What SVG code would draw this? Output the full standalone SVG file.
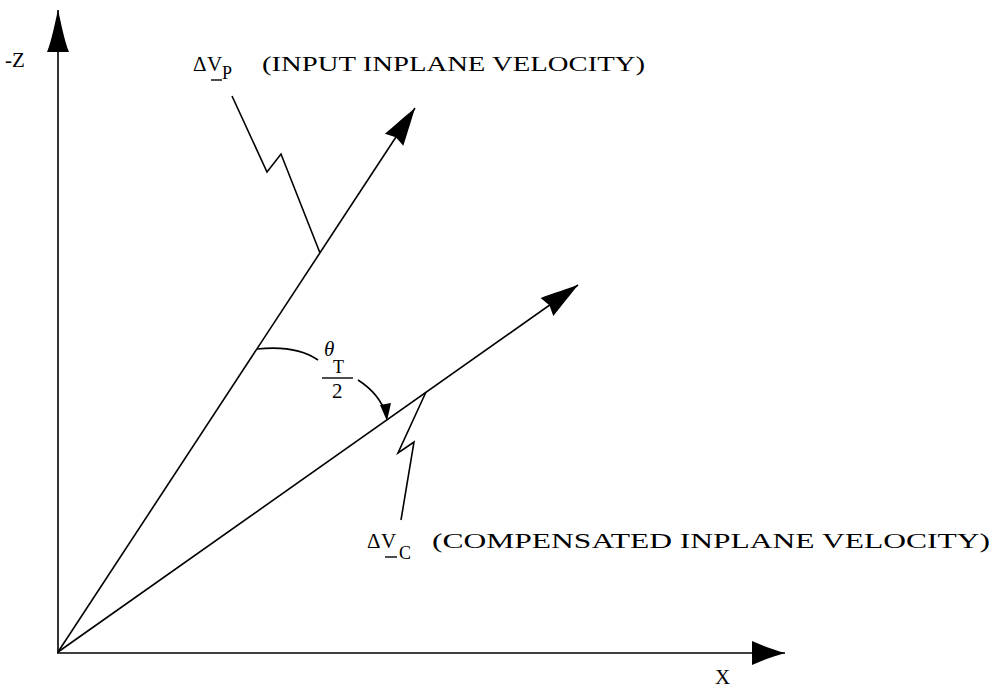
<svg xmlns="http://www.w3.org/2000/svg" width="995" height="690" viewBox="0 0 995 690">
<style>
.ln{stroke:#000;stroke-width:1.6;fill:none}
.t{font-family:"Liberation Serif","DejaVu Serif",serif;font-size:21px;fill:#000}
.s{font-family:"Liberation Serif","DejaVu Serif",serif;font-size:18px;fill:#000}
.ul{stroke:#000;stroke-width:1.4}
</style>
<defs>
<marker id="ah" markerUnits="userSpaceOnUse" markerWidth="50" markerHeight="30" viewBox="-42 -15 46 30" refX="0" refY="0" orient="auto">
<path d="M0,0 C-10,-3 -24,-7 -38,-11 L-35,0 L-38,11 C-24,7 -10,3 0,0 Z" fill="#000"/>
</marker>
<marker id="az" markerUnits="userSpaceOnUse" markerWidth="50" markerHeight="30" viewBox="-46 -15 50 30" refX="0" refY="0" orient="auto">
<path d="M0,0 C-12,-3 -30,-6 -42,-11 L-42,11 C-30,6 -12,3 0,0 Z" fill="#000"/>
</marker>
<marker id="ax" markerUnits="userSpaceOnUse" markerWidth="50" markerHeight="30" viewBox="-38 -15 42 30" refX="0" refY="0" orient="auto">
<path d="M0,0 C-10,-3 -22,-7 -33,-12 L-33,12 C-22,7 -10,3 0,0 Z" fill="#000"/>
</marker>
</defs>
<rect width="995" height="690" fill="#fff"/>
<g id="axes">
<line class="ln" x1="58" y1="653" x2="58" y2="10" marker-end="url(#az)"/>
<line class="ln" x1="57" y1="653" x2="785" y2="653" marker-end="url(#ax)"/>
<text class="t" x="5" y="67">-Z</text>
<text class="t" x="715" y="684">X</text>
</g>
<g id="connectors">
<line id="vp" class="ln" x1="58" y1="652" x2="415" y2="108" marker-end="url(#ah)"/>
<line id="vc" class="ln" x1="58" y1="652" x2="578" y2="285" marker-end="url(#ah)"/>
<polyline class="ln" points="232,96 267,172 281,154 320,253"/>
<polyline class="ln" points="426,392 398,453 414,442 401,520"/>
<path class="ln" d="M257,349 C285,346 305,351 318,360"/>
<path class="ln" d="M358,380 C372,389 382,402 386,414"/>
<path d="M387,421 L380,405 L391,403 Z" fill="#000"/>
</g>
<g id="label-vp">
<text class="t" x="193" y="71">Δ</text>
<text class="t" x="207" y="71">V</text>
<line class="ul" x1="211" y1="80" x2="222" y2="80"/>
<text class="s" x="222" y="79">P</text>
<text class="t" x="262" y="71" textLength="383" lengthAdjust="spacingAndGlyphs">(INPUT INPLANE VELOCITY)</text>
</g>
<g id="label-vc">
<text class="t" x="367" y="548">Δ</text>
<text class="t" x="381" y="548">V</text>
<line class="ul" x1="385" y1="557" x2="397" y2="557"/>
<text class="s" x="399" y="559">C</text>
<text class="t" x="432" y="548" textLength="558" lengthAdjust="spacingAndGlyphs">(COMPENSATED INPLANE VELOCITY)</text>
</g>
<g id="label-theta">
<text class="t" x="324" y="356" font-style="italic" font-size="22">θ</text>
<text class="s" x="333" y="373">T</text>
<line class="ul" x1="322" y1="378" x2="353" y2="378"/>
<text class="t" x="332" y="398">2</text>
</g>
</svg>
